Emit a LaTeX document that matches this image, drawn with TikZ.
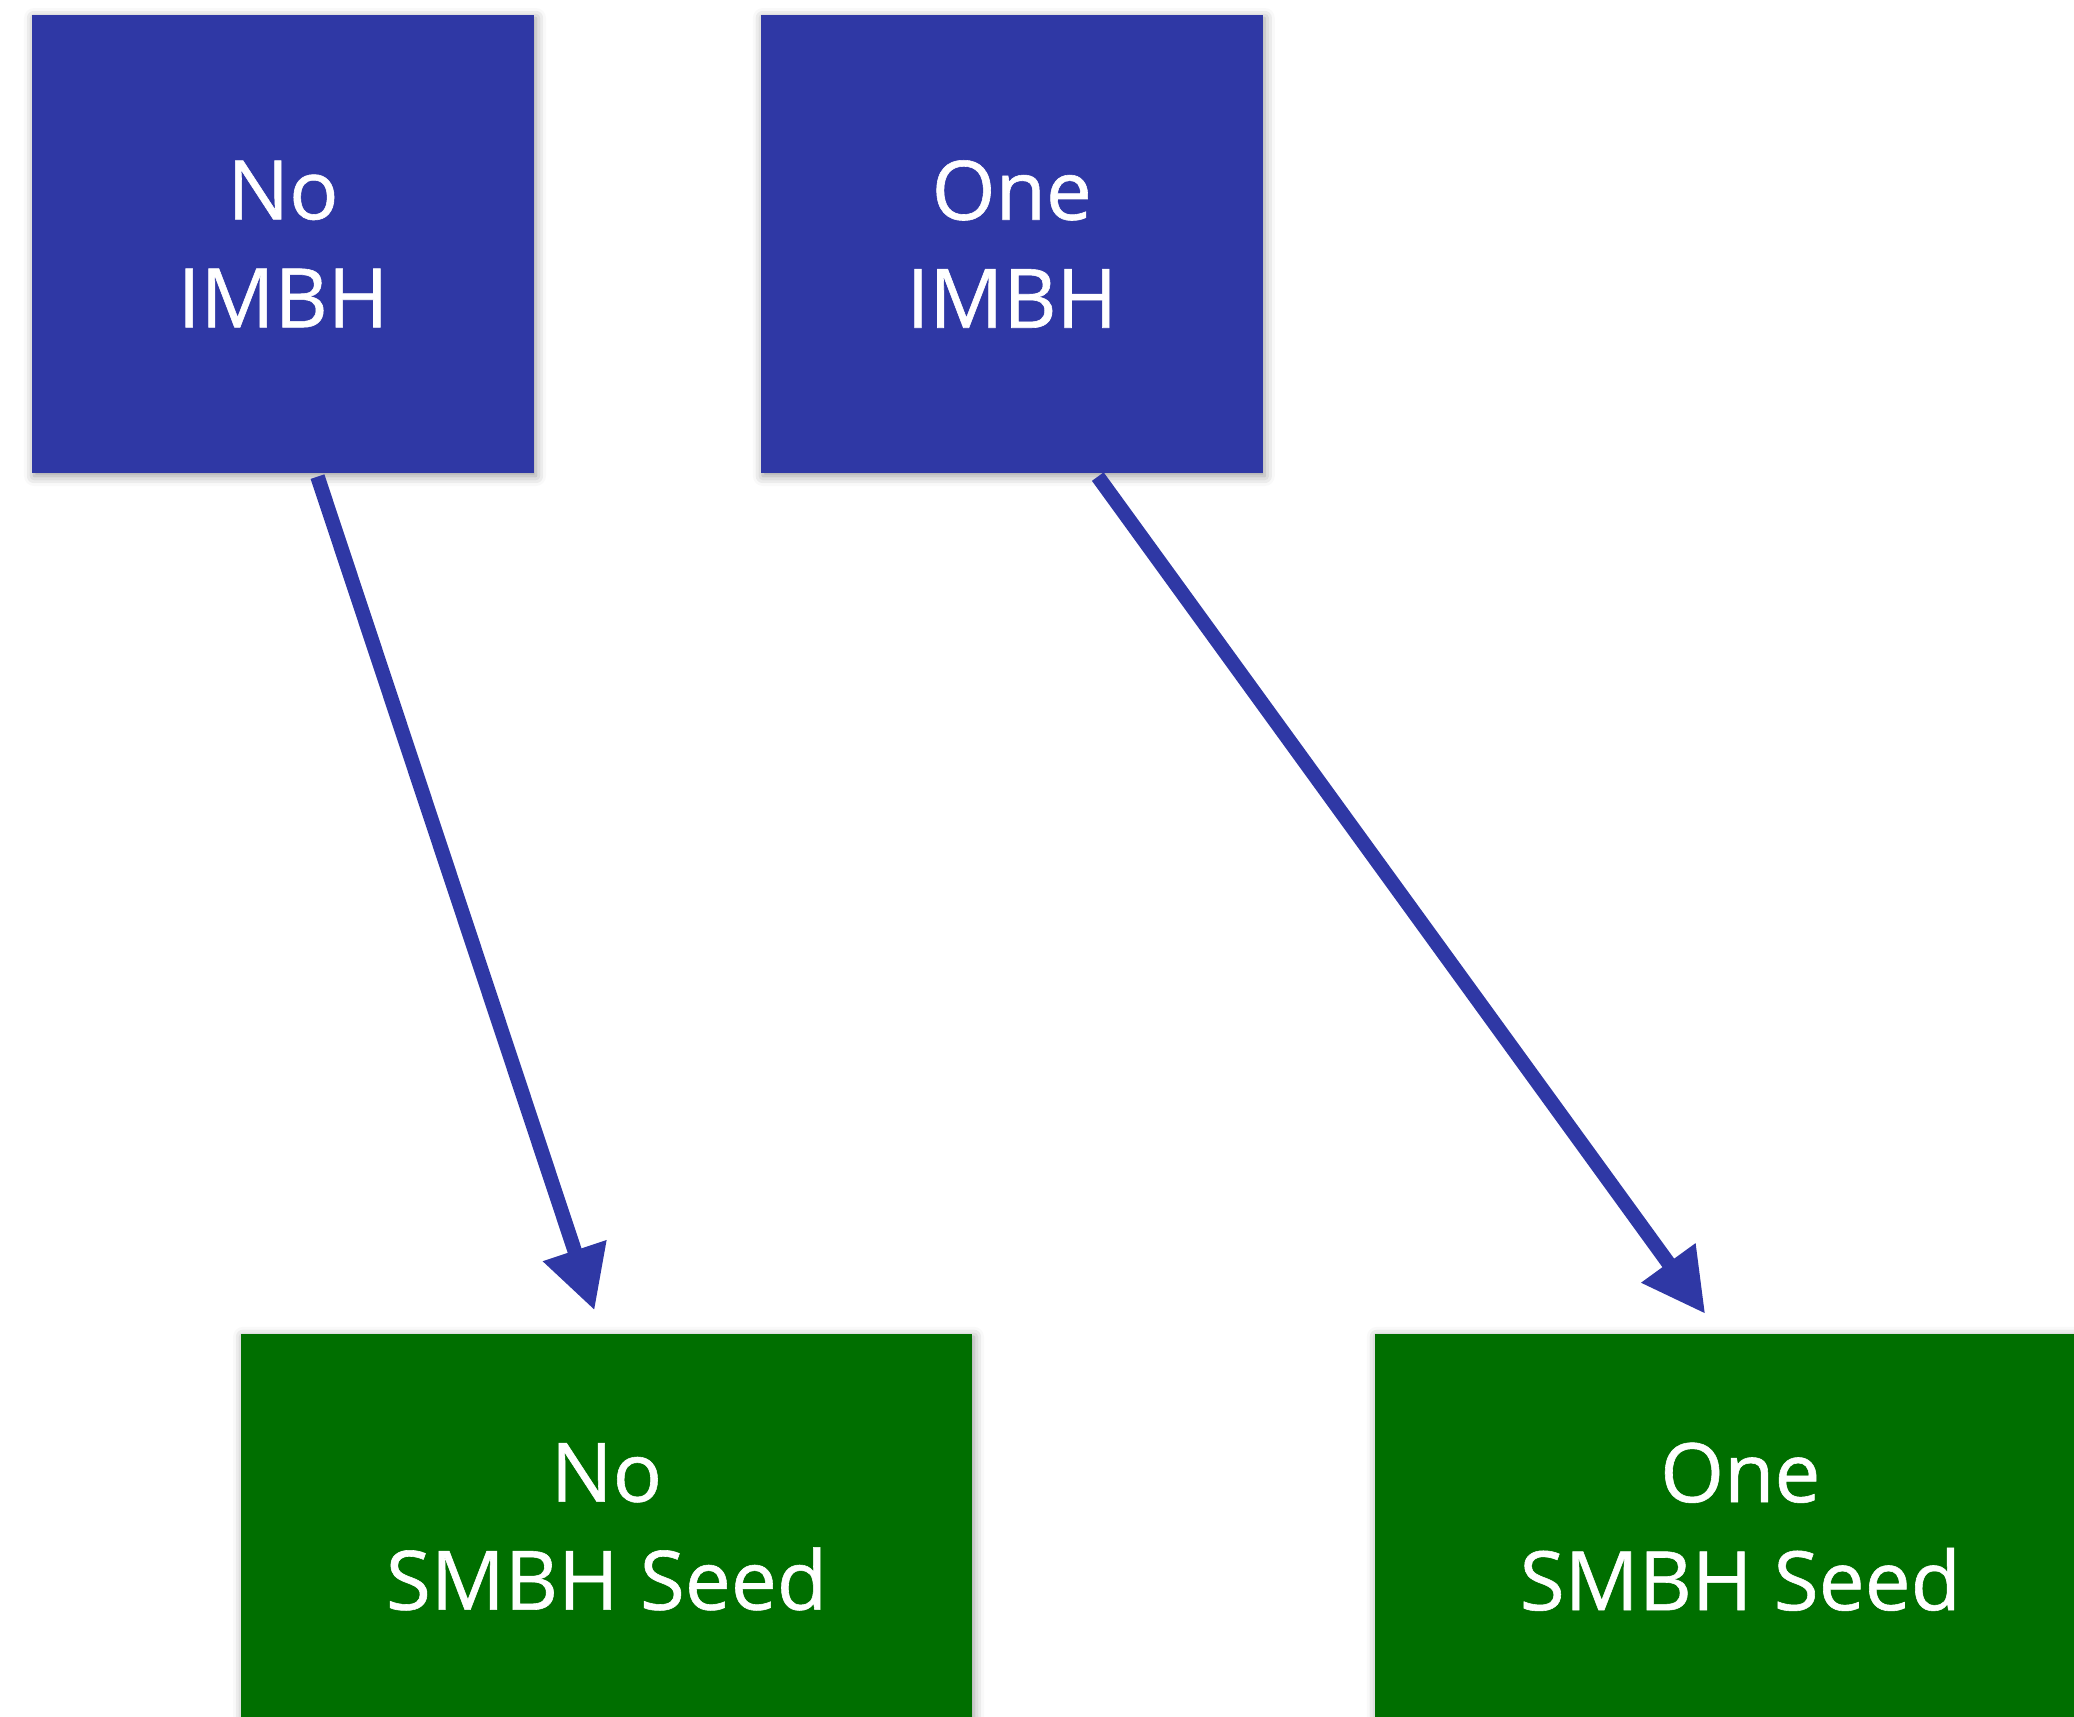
\documentclass[tikz,border=0pt]{standalone}
\usepackage{fontspec}
\setmainfont{Open Sans}[FakeBold=0.7]
\usepackage{tikz}
\usetikzlibrary{arrows.meta, positioning, shadows.blur}
\definecolor{imbhblue}{RGB}{47,56,165}
\definecolor{seedgreen}{RGB}{0,111,0}
\tikzset{
  imbhbox/.style = {fill=imbhblue, text=white, minimum width=251pt,
                    minimum height=229pt, inner sep=0pt, align=center,
                    font=\fontsize{41}{54}\selectfont,
                    blur shadow={shadow xshift=1pt, shadow yshift=-1.5pt,
                                 shadow blur radius=5pt, shadow opacity=40}},
  seedbox/.style = {imbhbox, fill=seedgreen, minimum width=365.5pt,
                    minimum height=193pt},
  flow/.style    = {-{Triangle[length=31.5pt, width=31.5pt]},
                    line width=7.25pt, imbhblue},
}

\begin{document}
\begin{tikzpicture}[x=0.5pt, y=-0.5pt, node distance=430pt and 113pt]
    \useasboundingbox (0,0) rectangle (2074,1717);

    \node[imbhbox] (noimbh) at (283,244) {No\\IMBH};
    \node[imbhbox, right=of noimbh] (oneimbh) {One\\IMBH};
    \node[seedbox, below=of noimbh, xshift=161.75pt] (noseed) {No\\SMBH Seed};
    \node[seedbox, right=201pt of noseed] (oneseed) {One\\SMBH Seed};

    \draw[flow] ([xshift=17.25pt, yshift=-1.6pt]noimbh.south)
             -- ([xshift=-6pt, yshift=11.5pt]noseed.north);
    \draw[flow] ([xshift=43pt, yshift=-1.6pt]oneimbh.south)
             -- ([xshift=-17.5pt, yshift=9.75pt]oneseed.north);
  \end{tikzpicture}
\end{document}
